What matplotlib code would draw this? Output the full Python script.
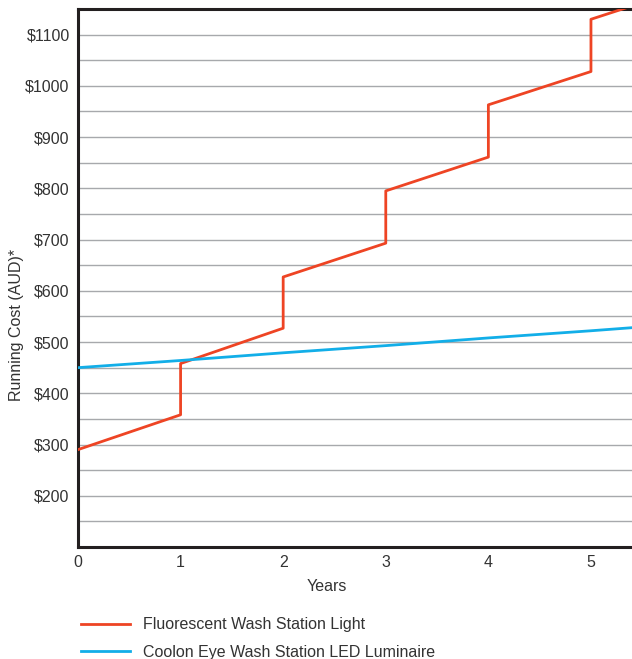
import matplotlib
matplotlib.use('Agg')
import matplotlib.pyplot as plt
from matplotlib.ticker import MultipleLocator

# data
fluoro_years = [0, 1, 1, 2, 2, 3, 3, 4, 4, 5, 5, 5.4]
fluoro_cost = [290, 358, 458, 527, 627, 693, 795, 861, 963, 1028, 1130, 1156]
led_years = [0, 1, 2, 3, 4, 5, 5.4]
led_cost = [450, 464, 479, 493, 508, 522, 528]

y_ticks = [200, 300, 400, 500, 600, 700, 800, 900, 1000, 1100]
x_ticks = [0, 1, 2, 3, 4, 5]

RED = '#ee4424'
BLUE = '#12aee8'
DARK = '#231f20'

plt.rcParams['font.family'] = ['Liberation Sans', 'DejaVu Sans']

fig = plt.figure(figsize=(6.32, 6.59), dpi=100)
ax = fig.add_axes([0.1234, 0.170, 0.8766, 0.8163])

ax.plot(fluoro_years, fluoro_cost, color=RED, lw=2.0, label='Fluorescent Wash Station Light', zorder=3)
ax.plot(led_years, led_cost, color=BLUE, lw=2.0, label='Coolon Eye Wash Station LED Luminaire', zorder=3)

ax.set_xlim(0, 5.4)
ax.set_ylim(100, 1150)
ax.set_xticks(x_ticks)
ax.set_yticks(y_ticks)
ax.set_yticklabels(['$' + str(v) for v in y_ticks])
ax.yaxis.set_minor_locator(MultipleLocator(50))
ax.grid(axis='y', which='both', color='#a7a9ac', lw=1.0)
ax.set_axisbelow(True)
ax.tick_params(which='both', length=0, labelsize=11.5, colors='#333333', pad=6)

for s in ['left', 'bottom', 'top']:
    ax.spines[s].set_color(DARK)
    ax.spines[s].set_linewidth(2.2)
ax.spines['right'].set_visible(False)

ax.set_xlabel('Years', fontsize=11.5, color='#333333')
ax.xaxis.set_label_coords(0.45, -0.06)
ax.set_ylabel('Running Cost (AUD)*', fontsize=11.5, color='#333333')
ax.yaxis.set_label_coords(-0.097, 0.413)

fig.legend(loc='upper left', bbox_to_anchor=(0.118, 0.073), frameon=False,
           fontsize=11.5, handlelength=3.1, handletextpad=0.8,
           labelspacing=0.8, borderaxespad=0, labelcolor='#333333')

plt.savefig('out.png', dpi=100)
